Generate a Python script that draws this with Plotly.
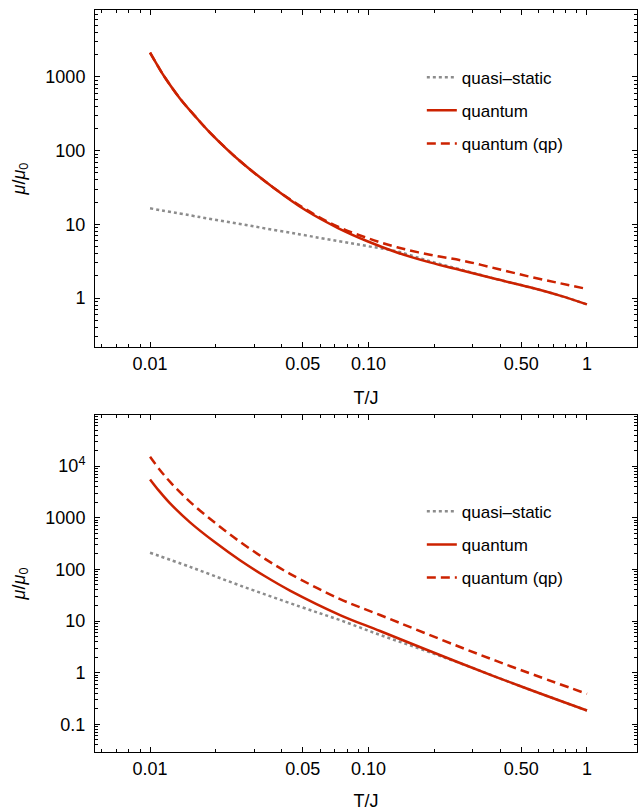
import plotly.graph_objects as go

# ---------------- data ----------------
# top panel
top_qs_T = [0.01, 0.0169, 0.0287, 0.0486, 0.0725, 0.0995, 0.135, 0.191, 0.271, 0.387, 0.548, 0.752, 1.0]
top_qs_mu = [16.5, 12.56, 9.57, 7.30, 5.94, 5.05, 4.29, 3.16, 2.39, 1.80, 1.40, 1.08, 0.82]

top_q_T = [0.01, 0.011, 0.0117, 0.0137, 0.0161, 0.0188, 0.0258, 0.0366, 0.0518, 0.0725, 0.0995,
           0.135, 0.191, 0.271, 0.387, 0.548, 0.752, 1.0]
top_q_mu = [2135, 1316, 984, 511, 292, 176, 72.3, 31.7, 15.4, 8.91, 5.85,
            4.15, 3.05, 2.35, 1.80, 1.40, 1.08, 0.82]

top_qp_T = [0.01, 0.011, 0.0117, 0.0137, 0.0161, 0.0188, 0.0258, 0.0366, 0.0518, 0.0725, 0.0995,
            0.135, 0.191, 0.271, 0.387, 0.548, 0.752, 1.0]
top_qp_mu = [2135, 1316, 984, 511, 292, 176, 72.3, 31.7, 15.9, 9.28, 6.48,
             4.90, 3.87, 3.21, 2.50, 1.95, 1.59, 1.33]

# bottom panel
bot_qs_T = [0.01, 0.01524, 0.0258, 0.0486, 0.0741, 0.1129, 0.172, 0.2623, 0.4936, 1.0]
bot_qs_mu = [210, 111.8, 48.8, 19.0, 10.4, 5.38, 2.91, 1.53, 0.551, 0.185]

bot_q_T = [0.01, 0.011, 0.01235, 0.01524, 0.01984, 0.0258, 0.0336, 0.0437, 0.0741, 0.1129,
           0.2623, 0.4936, 1.0]
bot_q_mu = [5530, 3314, 1899, 815, 334, 150, 73.5, 38.9, 13.07, 6.41, 1.54, 0.551, 0.185]

bot_qp_T = [0.01, 0.011, 0.01235, 0.01524, 0.01984, 0.0258, 0.0336, 0.0437, 0.0741, 0.1129,
            0.2623, 0.4936, 1.0]
bot_qp_mu = [15140, 8830, 4948, 2030, 797, 342, 160, 82.2, 26.6, 13.07, 3.14, 1.14, 0.389]

series_names = ["quasi\u2013static", "quantum", "quantum (qp)"]

x_tickvals = [0.01, 0.05, 0.1, 0.5, 1]
x_ticktext = ["0.01", "0.05", "0.10", "0.50", "1"]
top_y_tickvals = [1, 10, 100, 1000]
top_y_ticktext = ["1", "10", "100", "1000"]
bot_y_tickvals = [0.1, 1, 10, 100, 1000, 10000]
bot_y_ticktext = ["0.1", "1", "10", "100", "1000", "10<sup>4</sup>"]

# ---------------- styling ----------------
RED = "#CC2200"
GRAY = "#8C8C8C"
FONT = "Liberation Sans, Arial, sans-serif"

fig = go.Figure()

def add_panel(xa, ya, legend, data, grp):
    styles = [
        dict(color=GRAY, width=2.5, dash="3px,3px"),
        dict(color=RED, width=2.5, dash="solid"),
        dict(color=RED, width=2.5, dash="9px,5px"),
    ]
    for i, (T, mu) in enumerate(data):
        fig.add_trace(go.Scatter(
            x=T, y=mu, mode="lines", name=series_names[i],
            line=dict(shape="spline", smoothing=1.0, **styles[i]),
            xaxis=xa, yaxis=ya, legend=legend,
            legendgroup=f"{grp}{i}", showlegend=True,
        ))

add_panel("x", "y", "legend",
          [(top_qs_T, top_qs_mu), (top_q_T, top_q_mu), (top_qp_T, top_qp_mu)], "t")
add_panel("x2", "y2", "legend2",
          [(bot_qs_T, bot_qs_mu), (bot_q_T, bot_q_mu), (bot_qp_T, bot_qp_mu)], "b")

axis_common = dict(
    type="log", showline=True, linecolor="black", linewidth=1, mirror="ticks",
    ticks="inside", ticklen=5, tickwidth=1, tickcolor="black",
    showgrid=False, zeroline=False, automargin=False,
    tickfont=dict(family=FONT, size=18, color="black"),
    minor=dict(ticks="inside", ticklen=3, tickwidth=1, tickcolor="black",
               dtick="D1", showgrid=False),
)

xrange = [-2.252, 0.229]
x_title = dict(text="T/J", font=dict(family=FONT, size=18, color="black"), standoff=18)
y_title = dict(text="<i>\u03bc</i>/<i>\u03bc</i><sub>0</sub>",
               font=dict(family=FONT, size=18, color="black"), standoff=15)

legend_common = dict(xanchor="left", yanchor="top", bgcolor="rgba(0,0,0,0)",
                     font=dict(family=FONT, size=17, color="black"),
                     tracegroupgap=8, itemwidth=30)

fig.update_layout(
    width=638, height=811,
    margin=dict(l=95, r=1, t=10, b=59, autoexpand=False),
    paper_bgcolor="white", plot_bgcolor="white",
    font=dict(family=FONT, size=16, color="black"),
    xaxis=dict(domain=[0, 1], range=xrange, anchor="y", ticklabelstandoff=0,
               tickvals=x_tickvals, ticktext=x_ticktext, title=x_title, **axis_common),
    yaxis=dict(domain=[0.5458, 1.0], range=[-0.664, 3.908], anchor="x", ticklabelstandoff=5,
               tickvals=top_y_tickvals, ticktext=top_y_ticktext, title=y_title, **axis_common),
    xaxis2=dict(domain=[0, 1], range=xrange, anchor="y2", ticklabelstandoff=0,
                tickvals=x_tickvals, ticktext=x_ticktext, title=x_title, **axis_common),
    yaxis2=dict(domain=[0.0, 0.4542], range=[-1.536, 4.99], anchor="x2", ticklabelstandoff=5,
                tickvals=bot_y_tickvals, ticktext=bot_y_ticktext, title=y_title, **axis_common),
    legend=dict(x=0.603, y=0.933, **legend_common),
    legend2=dict(x=0.603, y=0.348, **legend_common),
    showlegend=True,
)

fig.write_html("out.html", config={"displayModeBar": False},
               post_script="document.body.style.margin='0';document.body.style.overflow='hidden';")
